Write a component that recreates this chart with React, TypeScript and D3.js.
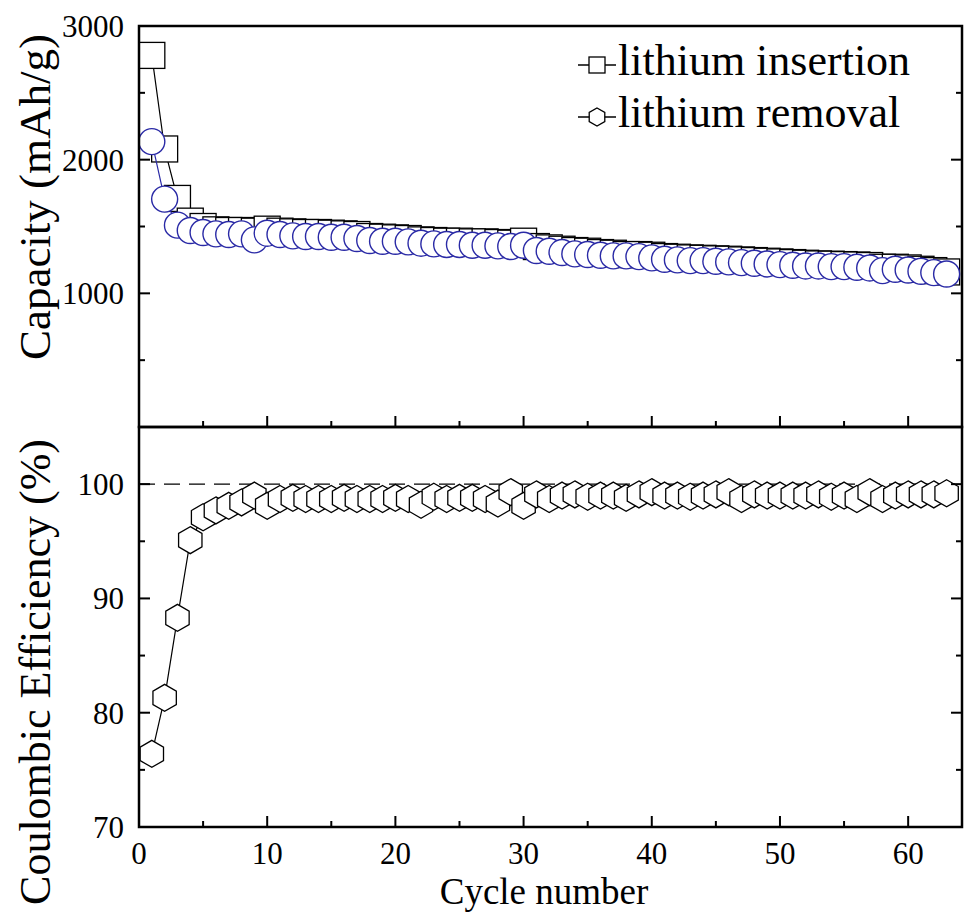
import React from 'react';
import * as d3 from 'd3';

const cycles: number[] = Array.from({ length: 63 }, (_, i) => i + 1);

const insertion: number[] = [
  2780, 2080, 1710, 1540, 1500, 1475, 1470, 1470, 1465, 1480,
  1465, 1460, 1455, 1455, 1450, 1445, 1440, 1425, 1420, 1415,
  1410, 1400, 1395, 1390, 1390, 1385, 1385, 1380, 1375, 1390,
  1350, 1340, 1330, 1320, 1315, 1305, 1300, 1290, 1290, 1285,
  1275, 1270, 1265, 1262, 1258, 1255, 1250, 1245, 1240, 1235,
  1230, 1225, 1220, 1218, 1215, 1212, 1208, 1195, 1195, 1190,
  1180, 1170, 1160,
];

const removal: number[] = [
  2135, 1705, 1510, 1470, 1455, 1445, 1440, 1445, 1400, 1450,
  1440, 1430, 1425, 1425, 1420, 1420, 1410, 1395, 1390, 1390,
  1385, 1375, 1370, 1365, 1365, 1360, 1360, 1355, 1350, 1360,
  1320, 1315, 1305, 1295, 1290, 1285, 1280, 1280, 1275, 1265,
  1255, 1250, 1245, 1245, 1240, 1235, 1230, 1225, 1220, 1215,
  1210, 1205, 1205, 1200, 1200, 1195, 1190, 1170, 1180, 1175,
  1165, 1155, 1145,
];

const efficiency: number[] = [
  76.4, 81.3, 88.3, 95.1, 97.1, 97.7, 98.1, 98.4, 99.0, 98.1,
  98.7, 98.8, 98.7, 98.7, 98.7, 98.8, 98.7, 98.7, 98.7, 98.8,
  98.7, 98.2, 98.9, 98.7, 98.8, 98.8, 98.7, 98.3, 99.3, 98.1,
  99.1, 98.7, 99.0, 99.1, 98.9, 99.0, 99.0, 98.8, 99.1, 99.3,
  99.0, 99.0, 98.9, 99.0, 99.1, 99.3, 98.7, 99.1, 99.0, 99.0,
  99.0, 99.0, 99.1, 98.9, 99.0, 98.7, 99.3, 98.7, 99.0, 99.1,
  99.1, 99.1, 99.2,
];

const xTicks: number[] = [0, 10, 20, 30, 40, 50, 60];
const xMinor: number[] = [5, 15, 25, 35, 45, 55];
const capTicks: number[] = [1000, 2000, 3000];
const capMinor: number[] = [500, 1500, 2500];
const ceTicks: number[] = [70, 80, 90, 100];
const ceMinor: number[] = [75, 85, 95];
const legendLabels: string[] = ['lithium insertion', 'lithium removal'];

const W = 964;
const H = 913;
const L = 139;
const R = 962;
const T1 = 26;
const B1 = 427;
const B2 = 827;
const FONT = "'Liberation Serif', 'Times New Roman', serif";
const BLUE = '#2a2aa6';

function hexPath(r: number): string {
  const pts = d3.range(6).map((i) => {
    const a = (Math.PI / 3) * i - Math.PI / 2;
    return [r * Math.cos(a), r * Math.sin(a)];
  });
  return 'M' + pts.map((p) => p[0].toFixed(2) + ',' + p[1].toFixed(2)).join('L') + 'Z';
}

export default function App() {
  const x = d3.scaleLinear().domain([0, 64.2]).range([L, R]);
  const yc = d3.scaleLinear().domain([0, 3000]).range([B1, T1]);
  const ye = d3.scaleLinear().domain([70, 105]).range([B2, B1]);

  const lineIns = d3.line<number>().x((_, i) => x(cycles[i])).y((d) => yc(d));
  const lineRem = d3.line<number>().x((_, i) => x(cycles[i])).y((d) => yc(d));
  const lineEff = d3.line<number>().x((_, i) => x(cycles[i])).y((d) => ye(d));

  const sq = 26;
  const cr = 13;
  const hex = hexPath(13.5);
  const hexSmall = hexPath(9);

  const tickMajor = 11;
  const tickMinor = 6;
  const tickFont = 31;

  return (
    <svg
      width={W}
      height={H}
      viewBox={`0 0 ${W} ${H}`}
      style={{ position: 'absolute', left: 0, top: 0, background: '#fff' }}
      fontFamily={FONT}
    >
      <rect x={0} y={0} width={W} height={H} fill="#fff" />

      {/* 100% reference line */}
      <line x1={L} x2={R} y1={ye(100)} y2={ye(100)} stroke="#000" strokeWidth={1.3} strokeDasharray="16,9" />

      {/* Capacity: insertion */}
      <path d={lineIns(insertion) || ''} fill="none" stroke="#000" strokeWidth={1.2} />
      {insertion.map((v, i) => (
        <rect key={'s' + i} x={x(cycles[i]) - sq / 2} y={yc(v) - sq / 2} width={sq} height={sq}
          fill="#fff" stroke="#000" strokeWidth={1.3} />
      ))}
      {/* Capacity: removal */}
      <path d={lineRem(removal) || ''} fill="none" stroke={BLUE} strokeWidth={1.2} />
      {removal.map((v, i) => (
        <circle key={'c' + i} cx={x(cycles[i])} cy={yc(v)} r={cr} fill="#fff" stroke={BLUE} strokeWidth={1.4} />
      ))}

      {/* Coulombic efficiency */}
      <path d={lineEff(efficiency) || ''} fill="none" stroke="#000" strokeWidth={1.2} />
      {efficiency.map((v, i) => (
        <path key={'h' + i} d={hex} transform={`translate(${x(cycles[i])},${ye(v)})`}
          fill="#fff" stroke="#000" strokeWidth={1.3} />
      ))}

      {/* Frames */}
      <rect x={L} y={T1} width={R - L} height={B1 - T1} fill="none" stroke="#000" strokeWidth={2.5} />
      <rect x={L} y={B1} width={R - L} height={B2 - B1} fill="none" stroke="#000" strokeWidth={2.5} />

      {/* X ticks on both panel bottoms (inward) */}
      {[B1, B2].map((yb) => (
        <g key={'xt' + yb}>
          {xTicks.map((t) => (
            <line key={'M' + t} x1={x(t)} x2={x(t)} y1={yb} y2={yb - tickMajor} stroke="#000" strokeWidth={2} />
          ))}
          {xMinor.map((t) => (
            <line key={'m' + t} x1={x(t)} x2={x(t)} y1={yb} y2={yb - tickMinor} stroke="#000" strokeWidth={2} />
          ))}
        </g>
      ))}

      {/* Y ticks capacity */}
      {capTicks.concat([0]).map((t) => (
        <g key={'ct' + t}>
          <line x1={L} x2={L + tickMajor} y1={yc(t)} y2={yc(t)} stroke="#000" strokeWidth={2} />
          <line x1={R} x2={R - tickMajor} y1={yc(t)} y2={yc(t)} stroke="#000" strokeWidth={2} />
        </g>
      ))}
      {capMinor.map((t) => (
        <g key={'cm' + t}>
          <line x1={L} x2={L + tickMinor} y1={yc(t)} y2={yc(t)} stroke="#000" strokeWidth={2} />
          <line x1={R} x2={R - tickMinor} y1={yc(t)} y2={yc(t)} stroke="#000" strokeWidth={2} />
        </g>
      ))}
      {/* Y ticks efficiency */}
      {ceTicks.map((t) => (
        <g key={'et' + t}>
          <line x1={L} x2={L + tickMajor} y1={ye(t)} y2={ye(t)} stroke="#000" strokeWidth={2} />
          <line x1={R} x2={R - tickMajor} y1={ye(t)} y2={ye(t)} stroke="#000" strokeWidth={2} />
        </g>
      ))}
      {ceMinor.map((t) => (
        <g key={'em' + t}>
          <line x1={L} x2={L + tickMinor} y1={ye(t)} y2={ye(t)} stroke="#000" strokeWidth={2} />
          <line x1={R} x2={R - tickMinor} y1={ye(t)} y2={ye(t)} stroke="#000" strokeWidth={2} />
        </g>
      ))}

      {/* Tick labels */}
      {capTicks.map((t) => (
        <text key={'cl' + t} x={124} y={yc(t)} dy="0.35em" textAnchor="end" fontSize={tickFont} fill="#000">{t}</text>
      ))}
      {ceTicks.map((t) => (
        <text key={'el' + t} x={124} y={ye(t)} dy="0.35em" textAnchor="end" fontSize={tickFont} fill="#000">{t}</text>
      ))}
      {xTicks.map((t) => (
        <text key={'xl' + t} x={x(t)} y={864} textAnchor="middle" fontSize={tickFont} fill="#000">{t}</text>
      ))}

      {/* Axis titles */}
      <text x={544} y={904} textAnchor="middle" fontSize={37} fill="#000">Cycle number</text>
      <text transform={`translate(50,197) rotate(-90)`} textAnchor="middle" fontSize={45} fill="#000">Capacity (mAh/g)</text>
      <text transform={`translate(50,672) rotate(-90)`} textAnchor="middle" fontSize={44} fill="#000">Coulombic Efficiency (%)</text>

      {/* Legend */}
      <g>
        <line x1={578} x2={616} y1={65} y2={65} stroke="#000" strokeWidth={1.3} />
        <rect x={597 - 8} y={65 - 8} width={16} height={16} fill="#fff" stroke="#000" strokeWidth={1.3} />
        <text x={618} y={75} fontSize={44} fill="#000">{legendLabels[0]}</text>
        <line x1={578} x2={616} y1={117} y2={117} stroke="#000" strokeWidth={1.3} />
        <path d={hexSmall} transform="translate(597,117)" fill="#fff" stroke="#000" strokeWidth={1.3} />
        <text x={618} y={127} fontSize={44} fill="#000">{legendLabels[1]}</text>
      </g>
    </svg>
  );
}
